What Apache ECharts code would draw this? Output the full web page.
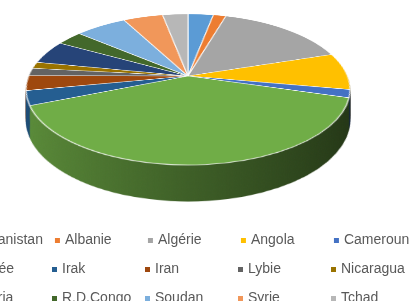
<!DOCTYPE html>
<html>
<head>
<meta charset="utf-8">
<script src="https://cdn.jsdelivr.net/npm/echarts@6/dist/echarts.min.js"></script>
<style>
    html, body { margin: 0; width: 413px; height: 301px; overflow: hidden; background: #fff; }
    body { position: relative; }
    .layer { position: absolute; left: 18px; top: -94px; width: 340px; height: 340px; transform-origin: 170px 170px; }
    #legend { position: absolute; left: -50px; top: 0; width: 520px; height: 301px; }
</style>
</head>
<body>
<div id="stack"></div>
<div id="legend"></div>
<script>
const countries = ['Afghanistan', 'Albanie', 'Algérie', 'Angola', 'Cameroun',
    'Guinée', 'Irak', 'Iran', 'Lybie', 'Nicaragua',
    'Nigéria', 'R.D.Congo', 'Soudan', 'Syrie', 'Tchad'];
const shares = [3.0, 1.5, 15.5, 7.9, 1.7, 39.3, 3.1, 3.2, 1.6, 1.4, 5.0, 3.1, 6.1, 4.7, 3.0];
const colors = ['#5B9BD5', '#ED7D31', '#A5A5A5', '#FFC000', '#4472C4',
    '#70AD47', '#255E91', '#9E480E', '#636363', '#997300',
    '#264478', '#43682B', '#7CAFDD', '#F1975A', '#B7B7B7'];

// vue 3D : perspective + inclinaison, épaisseur du disque
const PERSP = 793, TILT = 62.7, DEPTH = 30;
const c = Math.cos(TILT * Math.PI / 180), s = Math.sin(TILT * Math.PI / 180);
const R = 159.4;

function shade(hex, f) {
    const n = parseInt(hex.slice(1), 16);
    const r = Math.round(((n >> 16) & 255) * f), g = Math.round(((n >> 8) & 255) * f), b = Math.round((n & 255) * f);
    return `rgb(${r},${g},${b})`;
}

function makeLayer(t, isTop) {
    const div = document.createElement('div');
    div.className = 'layer';
    div.style.transform = `perspective(${PERSP}px) rotateX(${TILT}deg) translate3d(0, ${(t * c).toFixed(2)}px, ${(-t * s).toFixed(2)}px)`;
    document.getElementById('stack').appendChild(div);
    const chart = echarts.init(div, null, { renderer: 'canvas' });
    const data = countries.map((name, i) => ({
        name, value: shares[i],
        itemStyle: isTop
            ? { color: colors[i], borderColor: 'rgba(255,255,255,0.85)', borderWidth: 1.2 }
            : { color: new echarts.graphic.LinearGradient(170 - R, 0, 170 + R, 0, [
                    { offset: 0, color: shade(colors[i], 0.82) },
                    { offset: 0.5, color: shade(colors[i], 0.55) },
                    { offset: 1, color: shade(colors[i], 0.3) }
                ], true), borderWidth: 0 }
    }));
    chart.setOption({
        animation: false,
        series: [{
            type: 'pie', center: ['50%', '50%'], radius: R, startAngle: 90, clockwise: true,
            silent: true, label: { show: false }, labelLine: { show: false }, data
        }]
    });
}

// paroi d'abord (du bas vers le haut), puis la face supérieure
for (let t = DEPTH; t >= 1; t--) makeLayer(t, false);
makeLayer(0, true);

// légende
const legendChart = echarts.init(document.getElementById('legend'));
legendChart.setOption({
    animation: false,
    legend: {
        left: 4, top: 227, width: 480, icon: 'rect', itemWidth: 5, itemHeight: 5, itemGap: 12,
        textStyle: { width: 71, overflow: 'none', fontSize: 14, lineHeight: 17, color: '#595959', fontFamily: 'Liberation Sans' },
        data: countries
    },
    series: [{
        type: 'pie', radius: 0, center: [-200, -200], silent: true, label: { show: false },
        data: countries.map((name, i) => ({ name, value: shares[i], itemStyle: { color: colors[i] } }))
    }]
});
</script>
</body>
</html>
